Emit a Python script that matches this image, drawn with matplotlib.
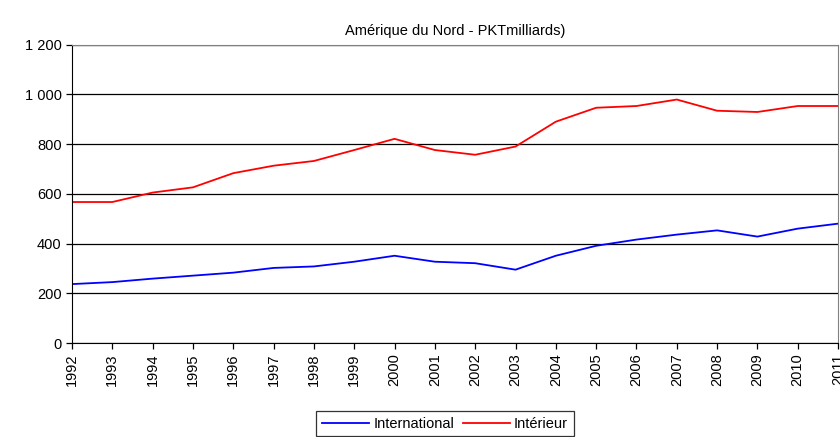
import matplotlib
matplotlib.use('Agg')
import matplotlib.pyplot as plt

# Data (PKT, milliards)
years = list(range(1992, 2012))
international = [237, 245, 259, 271, 283, 302, 308, 327, 351, 327,
                 321, 295, 351, 391, 416, 436, 453, 428, 460, 480]
interieur = [567, 567, 605, 626, 683, 713, 732, 776, 821, 776,
             757, 790, 890, 946, 953, 979, 934, 929, 953, 953]
yticks = [0, 200, 400, 600, 800, 1000, 1200]
ytick_labels = ['0', '200', '400', '600', '800', '1 000', '1 200']

plt.rcParams['font.family'] = ['Liberation Sans', 'DejaVu Sans']

fig = plt.figure(figsize=(8.4, 4.37), dpi=100)
ax = fig.add_axes([0.0857, 0.215, 0.912, 0.683])

ax.plot(years, international, color='#0000ff', lw=1.3, label='International')
ax.plot(years, interieur, color='#ff0000', lw=1.3, label='Intérieur')

ax.set_xlim(years[0], years[-1])
ax.set_ylim(0, 1200)
ax.set_yticks(yticks)
ax.set_yticklabels(ytick_labels, fontsize=10.5)
ax.set_xticks(years)
ax.set_xticklabels([str(y) for y in years], rotation=90, fontsize=10.5)
ax.yaxis.grid(True, color='black', lw=0.9)
ax.set_axisbelow(True)

for s in ['top', 'right']:
    ax.spines[s].set_color('#808080')
ax.spines['left'].set_color('black')
ax.spines['bottom'].set_color('black')
ax.tick_params(axis='both', direction='out', length=4, width=0.9, colors='black')

ax.set_title('Amérique du Nord - PKTmilliards)', fontsize=10.5, pad=7)

leg = ax.legend(loc='center', bbox_to_anchor=(0.487, -0.27), ncol=2,
                frameon=True, fancybox=False, fontsize=10.5,
                handlelength=3.2, handletextpad=0.3, columnspacing=0.6,
                borderpad=0.4, borderaxespad=0)
leg.get_frame().set_edgecolor('black')
leg.get_frame().set_linewidth(0.9)

fig.savefig('out.png', dpi=100)
